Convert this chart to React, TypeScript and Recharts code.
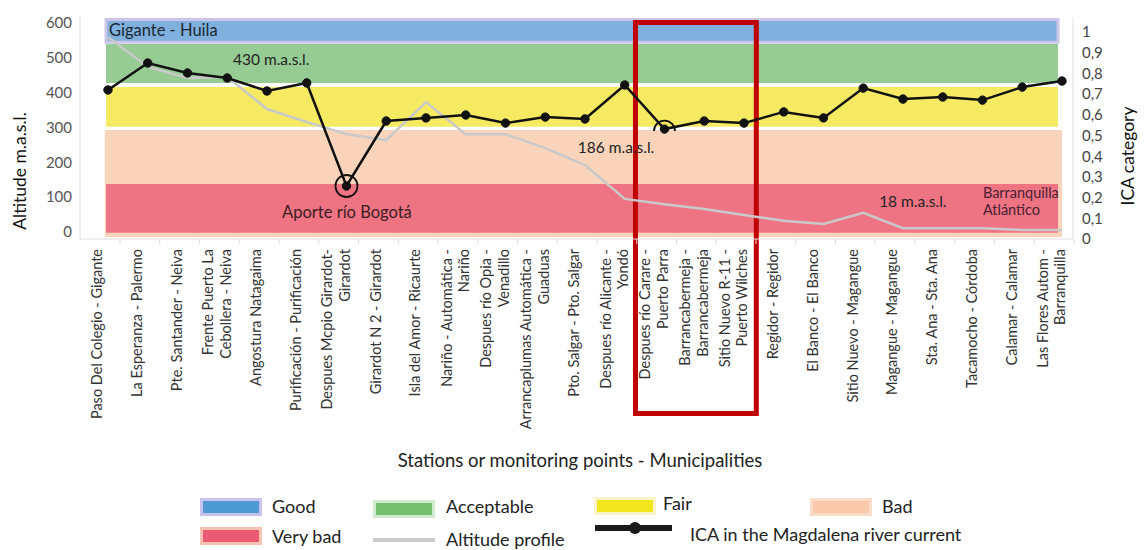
import React from 'react';
import { LineChart, Line, XAxis, YAxis, ReferenceArea, ReferenceDot } from 'recharts';

// ---------- data ----------
const stations: string[][] = [
  ['Paso Del Colegio - Gigante'],
  ['La Esperanza - Palermo'],
  ['Pte. Santander - Neiva'],
  ['Frente Puerto La', 'Cebollera - Neiva'],
  ['Angostura Natagaima'],
  ['Purificación - Purificación'],
  ['Despues Mcpio Girardot-', 'Girardot'],
  ['Girardot N 2 - Girardot'],
  ['Isla del Amor - Ricaurte'],
  ['Nariño - Automática -', 'Nariño'],
  ['Despues río Opia -', 'Venadillo'],
  ['Arrancaplumas Automática -', 'Guaduas'],
  ['Pto. Salgar - Pto. Salgar'],
  ['Despues río Alicante -', 'Yondó'],
  ['Despues río Carare -', 'Puerto Parra'],
  ['Barrancabermeja -', 'Barrancabermeja'],
  ['Sitio Nuevo R-11 -', 'Puerto Wilches'],
  ['Regidor - Regidor'],
  ['El Banco - El Banco'],
  ['Sitio Nuevo - Magangue'],
  ['Magangue - Magangue'],
  ['Sta. Ana - Sta. Ana'],
  ['Tacamocho - Córdoba'],
  ['Calamar - Calamar'],
  ['Las Flores Autom -', 'Barranquilla'],
];

const icaValues = [
  0.72, 0.85, 0.802, 0.778, 0.715, 0.754, 0.256, 0.57, 0.585, 0.599, 0.56, 0.589, 0.58,
  0.744, 0.531, 0.57, 0.56, 0.614, 0.585, 0.729, 0.676, 0.686, 0.671, 0.734, 0.763,
];

const altitudeValues = [
  560, 474, 442, 445, 353, 316, 281, 264, 373, 281, 281, 241, 192,
  95, 80, 66, 49, 32, 23, 55, 11, 11, 11, 6, 6,
];

const altTicks = [0, 100, 200, 300, 400, 500, 600];
const icaTicks = [0, 0.1, 0.2, 0.3, 0.4, 0.5, 0.6, 0.7, 0.8, 0.9, 1];

// ICA quality bands (drawn on the altitude axis of the figure)
const bandNames = ['Good', 'Acceptable', 'Fair', 'Bad', 'Very bad'];
const bandLow = [545, 428, 302, -14, -2];
const bandHigh = [610, 540, 416, 293, 138];

// ---------- styles ----------
const bandFill = ['#80b0dd', '#96cc93', '#f5ea62', '#f9d4bb', '#ee7484'];
const legendFill = ['#4e9bd4', '#74bf6e', '#f2e61e', '#fac9aa', '#eb5a72'];
const legendBorder = ['#c8c2ec', '#d2ead0', '#fbf3c8', '#fbdcc8', '#f8c2b0'];

const data = stations.map((s, i) => ({ i, alt: altitudeValues[i], ica: icaValues[i] }));

const FONT = 'Lato, "Open Sans", sans-serif';

const StationTick = (props: any) => {
  const { x, y, payload } = props;
  const lines = stations[payload.value] ?? [];
  const base = lines.length === 1 ? [-5.5] : [-14, 3.5];
  return (
    <g>
      <line x1={x + 12} x2={x + 12} y1={y} y2={y + 5} stroke="#dcdcdc" />
      <text
        transform={`translate(${x},${y + 10}) rotate(-90)`}
        textAnchor="end"
        fontFamily={FONT}
        fontSize={14.5}
        fill="#333"
      >
        {lines.map((l, k) => (
          <tspan key={k} x={0} y={base[k]}>
            {l}
          </tspan>
        ))}
      </text>
    </g>
  );
};

const ann = (lines: string[], size: number, color: string) => (props: any) => {
  const vb = props.viewBox || {};
  return (
    <text x={vb.x} y={vb.y} fontFamily={FONT} fontSize={size} fill={color}>
      {lines.map((l, k) => (
        <tspan key={k} x={vb.x} dy={k === 0 ? 0 : size * 1.15}>
          {l}
        </tspan>
      ))}
    </text>
  );
};

const annotations = [
  { x: 0.025, y: 563, lines: ['Gigante - Huila'], size: 16.5, color: '#1c2733' },
  { x: 3.145, y: 480, lines: ['430 m.a.s.l.'], size: 15.5, color: '#222' },
  { x: 4.38, y: 40, lines: ['Aporte río Bogotá'], size: 16.5, color: '#3a1d22' },
  { x: 11.82, y: 227, lines: ['186 m.a.s.l.'], size: 15.5, color: '#222' },
  { x: 19.4, y: 72, lines: ['18 m.a.s.l.'], size: 15.5, color: '#222' },
  { x: 22.01, y: 98, lines: ['Barranquilla', 'Atlántico'], size: 14.5, color: '#4a2030' },
];

const fmtIca = (v: number) => (v === 0 || v === 1 ? String(v) : v.toFixed(1).replace('.', ','));

const UpperArc = (props: any) => {
  const { cx, cy, r } = props;
  if (cx == null || cy == null) return null;
  return (
    <path
      d={`M ${cx - r} ${cy + 2} A ${r} ${r} 0 1 1 ${cx + r} ${cy + 2}`}
      fill="none"
      stroke="#111"
      strokeWidth={1.8}
    />
  );
};

const Swatch = ({ idx, left, top }: { idx: number; left: number; top: number }) => (
  <div
    style={{
      position: 'absolute',
      left,
      top,
      width: 56,
      height: 12,
      background: legendFill[idx],
      border: `3px solid ${legendBorder[idx]}`,
    }}
  />
);

const LegendText = ({ text, left, top }: { text: string; left: number; top: number }) => (
  <div
    style={{
      position: 'absolute',
      left,
      top,
      fontFamily: FONT,
      fontSize: 18,
      color: '#222',
      whiteSpace: 'nowrap',
      lineHeight: '20px',
    }}
  >
    {text}
  </div>
);

export default function App() {
  return (
    <div style={{ position: 'absolute', left: 0, top: 0, width: 1146, height: 550, background: '#fff', overflow: 'hidden' }}>
      <LineChart width={1146} height={550} data={data} margin={{ top: 17, right: 0, bottom: 0, left: 0 }}>
        <XAxis
          dataKey="i"
          type="number"
          domain={[-0.704, 24.277]}
          allowDataOverflow
          ticks={stations.map((_, i) => i)}
          interval={0}
          height={311}
          tickSize={0}
          tickMargin={0}
          tickLine={false}
          axisLine={{ stroke: '#e0e0e0' }}
          tick={<StationTick />}
          label={(p: any) => (
            <text x={580} y={467} textAnchor="middle" fontFamily={FONT} fontSize={18.5} fill="#222">
              Stations or monitoring points - Municipalities
            </text>
          )}
        />
        <YAxis
          yAxisId="alt"
          orientation="left"
          width={80}
          domain={[-20.1, 617.3]}
          allowDataOverflow
          ticks={altTicks}
          interval={0}
          tickSize={0}
          tickMargin={8}
          tickLine={false}
          axisLine={{ stroke: '#e0e0e0' }}
          tick={{ fill: '#555', fontSize: 15, fontFamily: FONT }}
          label={(p: any) => (
            <text
              transform="translate(26,171) rotate(-90)"
              textAnchor="middle"
              fontFamily={FONT}
              fontSize={17.5}
              fill="#111"
            >
              Altitude m.a.s.l.
            </text>
          )}
        />
        <YAxis
          yAxisId="ica"
          orientation="right"
          width={73}
          domain={[0, 1.0725]}
          allowDataOverflow
          ticks={icaTicks}
          interval={0}
          tickSize={0}
          tickMargin={9}
          tickLine={false}
          axisLine={{ stroke: '#e0e0e0' }}
          tickFormatter={fmtIca}
          tick={{ fill: '#444', fontSize: 15, fontFamily: FONT }}
          label={(p: any) => (
            <text
              transform="translate(1134,156) rotate(-90)"
              textAnchor="middle"
              fontFamily={FONT}
              fontSize={17.5}
              fill="#111"
            >
              ICA category
            </text>
          )}
        />

        {bandNames.map((name, k) => (
          <ReferenceArea
            key={name}
            yAxisId="alt"
            x1={k === 3 ? -0.08 : -0.05}
            x2={k === 3 ? 24.0 : 23.9}
            y1={bandLow[k]}
            y2={bandHigh[k]}
            fill={bandFill[k]}
            fillOpacity={1}
            stroke={k === 0 ? '#cbc5ea' : 'none'}
            strokeWidth={k === 0 ? 3 : 0}
            ifOverflow="visible"
          />
        ))}

        <Line
          yAxisId="alt"
          dataKey="alt"
          stroke="#c9c9c9"
          strokeWidth={2.5}
          dot={false}
          isAnimationActive={false}
        />

        {/* label box behind "186 m.a.s.l." */}
        <ReferenceArea yAxisId="alt" x1={11.55} x2={13.6} y1={198} y2={284} fill="#f9d4bb" fillOpacity={1} stroke="none" />

        {annotations.map((a, k) => (
          <ReferenceDot
            key={k}
            yAxisId="alt"
            x={a.x}
            y={a.y}
            r={0}
            fill="none"
            stroke="none"
            ifOverflow="visible"
            label={ann(a.lines, a.size, a.color)}
          />
        ))}

        <Line
          yAxisId="ica"
          dataKey="ica"
          stroke="#111"
          strokeWidth={2.5}
          dot={{ r: 4.2, fill: '#111', stroke: '#111', strokeWidth: 1 }}
          isAnimationActive={false}
        />

        <ReferenceDot yAxisId="ica" x={6} y={icaValues[6]} r={11} fill="none" stroke="#111" strokeWidth={1.8} />
        <ReferenceDot yAxisId="ica" x={14} y={icaValues[14]} r={10.5} shape={<UpperArc />} />

        {/* highlight rectangle */}
        <ReferenceArea
          yAxisId="alt"
          x1={13.27}
          x2={16.31}
          y1={-521}
          y2={601.5}
          fill="none"
          stroke="#c00000"
          strokeWidth={5}
          ifOverflow="visible"
        />
      </LineChart>

      {/* legend */}
      <Swatch idx={0} left={200} top={498} />
      <LegendText text={bandNames[0]} left={272} top={496} />
      <Swatch idx={1} left={373} top={500} />
      <LegendText text={bandNames[1]} left={446} top={496} />
      <Swatch idx={2} left={594} top={497} />
      <LegendText text={bandNames[2]} left={663} top={493} />
      <Swatch idx={3} left={810} top={498} />
      <LegendText text={bandNames[3]} left={882} top={496} />

      <Swatch idx={4} left={200} top={527} />
      <LegendText text={bandNames[4]} left={272} top={526} />
      <div style={{ position: 'absolute', left: 373, top: 538, width: 62, height: 4, background: '#cccccc' }} />
      <LegendText text="Altitude profile" left={446} top={529} />
      <div style={{ position: 'absolute', left: 595, top: 525, width: 77, height: 6, background: '#1a1a1a' }} />
      <div style={{ position: 'absolute', left: 629, top: 522, width: 12, height: 12, borderRadius: 6, background: '#1a1a1a' }} />
      <LegendText text="ICA in the Magdalena river current" left={690} top={524} />
    </div>
  );
}
